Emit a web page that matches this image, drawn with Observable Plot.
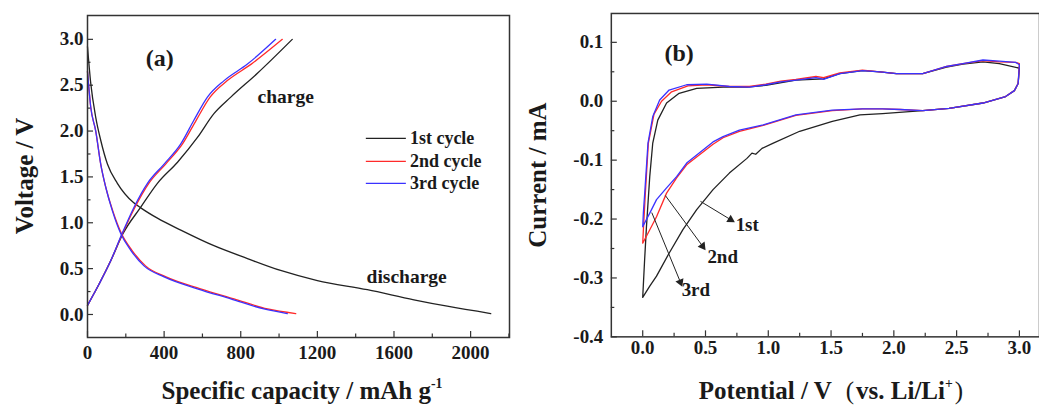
<!DOCTYPE html>
<html><head><meta charset="utf-8">
<script src="https://cdn.jsdelivr.net/npm/d3@7"></script>
<script src="https://cdn.jsdelivr.net/npm/@observablehq/plot@0.6"></script>
<style>
html,body{margin:0;padding:0;background:#fff;overflow:hidden}
#wrap{position:relative;width:1039px;height:407px;overflow:hidden;font-family:"Liberation Serif",serif;font-weight:bold;color:#1a1a1a}
.panel{position:absolute;top:0}
.title{position:absolute;font-size:25px;line-height:25px;white-space:nowrap}
.title sup{font-size:0.55em;line-height:0;position:relative;top:-0.15em}
.paren{font-weight:normal;margin:0 0.08em}
</style></head>
<body><div id="wrap">
<div id="pa" class="panel" style="left:0"></div>
<div id="pb" class="panel" style="left:519px"></div>
<div class="title" style="left:302px;top:378px;transform:translateX(-50%)">Specific capacity / mAh g<sup>-1</sup></div>
<div class="title" style="left:24px;top:176px;transform:translate(-50%,-50%) rotate(-90deg)">Voltage / V</div>
<div class="title" style="left:832px;top:378px;transform:translateX(-50%)">Potential / V &nbsp;<span class="paren">(</span>vs. Li/Li<sup>+</sup><span class="paren">)</span></div>
<div class="title" style="left:537px;top:175px;transform:translate(-50%,-50%) rotate(-90deg)">Current / mA</div>
</div>
<script>
// ---------- Panel (a): charge/discharge profiles ----------
const seriesA = ["1st cycle", "2nd cycle", "3rd cycle"];
const colorsA = ["#222222", "#ff2a2a", "#3a32ff"];

const dis1Cap = [0, 17, 43, 69, 104, 156, 240, 280, 365, 487, 660, 835, 1008, 1200, 1461, 1704, 1878, 2105];
const dis1Volt = [2.92, 2.52, 2.15, 1.90, 1.64, 1.43, 1.22, 1.16, 1.05, 0.92, 0.75, 0.61, 0.48, 0.37, 0.27, 0.16, 0.09, 0.01];
const dis2Cap = [0, 17, 43, 69, 95, 132, 178, 232, 303, 410, 590, 765, 940, 1087];
const dis2Volt = [2.65, 2.26, 2.0, 1.64, 1.39, 1.13, 0.88, 0.70, 0.53, 0.41, 0.28, 0.17, 0.06, 0.01];
const dis3Cap = [0, 17, 43, 69, 95, 130, 174, 226, 295, 400, 574, 748, 921, 1043];
const dis3Volt = [2.65, 2.26, 2.0, 1.64, 1.39, 1.13, 0.88, 0.70, 0.53, 0.41, 0.28, 0.17, 0.06, 0.01];

const ch1Cap = [0, 60, 120, 185, 278, 365, 470, 574, 660, 748, 887, 1069];
const ch1Volt = [0.10, 0.33, 0.58, 0.88, 1.17, 1.43, 1.66, 1.93, 2.19, 2.37, 2.63, 3.0];
const ch2Cap = [0, 60, 120, 182, 248, 320, 408, 496, 568, 640, 730, 855, 1017];
const ch2Volt = [0.10, 0.33, 0.58, 0.88, 1.17, 1.43, 1.64, 1.86, 2.12, 2.37, 2.55, 2.73, 3.0];
const ch3Cap = [0, 60, 120, 180, 243, 313, 400, 487, 556, 626, 713, 835, 982];
const ch3Volt = [0.10, 0.33, 0.58, 0.88, 1.17, 1.43, 1.64, 1.86, 2.12, 2.37, 2.55, 2.73, 3.0];

const capMajor = [0, 400, 800, 1200, 1600, 2000];
const capMinor = [200, 600, 1000, 1400, 1800, 2200];
const voltMajor = [0, 0.5, 1.0, 1.5, 2.0, 2.5, 3.0];
const voltMinor = [0.25, 0.75, 1.25, 1.75, 2.25, 2.75];

// ---------- Panel (b): cyclic voltammetry ----------
const seriesB = ["1st", "2nd", "3rd"];
const cv1Pot = [3.0, 2.99, 2.96, 2.89, 2.71, 2.44, 2.23, 1.91, 1.73, 1.51, 1.25, 1.04, 0.95, 0.90, 0.87, 0.83, 0.69, 0.56, 0.43, 0.32, 0.21, 0.11, 0.056, 0.0,
  0.015, 0.03, 0.056, 0.08, 0.12, 0.19, 0.29, 0.43, 0.64, 0.83, 0.98, 1.22, 1.44, 1.57, 1.75, 1.89, 2.02, 2.23, 2.42, 2.55, 2.71, 2.84, 3.0];
const cv1Cur = [0.056, 0.03, 0.018, 0.008, -0.003, -0.012, -0.016, -0.021, -0.023, -0.034, -0.051, -0.071, -0.080, -0.090, -0.088, -0.097, -0.122, -0.150, -0.184, -0.218, -0.258, -0.297, -0.314, -0.333,
  -0.27, -0.2125, -0.128, -0.071, -0.032, -0.003, 0.0135, 0.022, 0.024, 0.024, 0.027, 0.036, 0.038, 0.047, 0.052, 0.050, 0.047, 0.047, 0.058, 0.063, 0.067, 0.064, 0.056];
const cv2Pot = [3.0, 2.99, 2.96, 2.89, 2.71, 2.44, 2.23, 2.05, 1.91, 1.75, 1.51, 1.22, 0.96, 0.77, 0.64, 0.56, 0.35, 0.27, 0.19, 0.11, 0.042, 0.0,
  0.005, 0.02, 0.045, 0.09, 0.15, 0.23, 0.36, 0.51, 0.69, 0.85, 0.98, 1.10, 1.22, 1.38, 1.44, 1.57, 1.75, 1.89, 2.02, 2.23, 2.42, 2.55, 2.71, 2.84, 2.97, 3.0];
const cv2Cur = [0.064, 0.03, 0.018, 0.008, -0.003, -0.012, -0.016, -0.014, -0.013, -0.013, -0.016, -0.024, -0.041, -0.051, -0.062, -0.073, -0.108, -0.130, -0.156, -0.196, -0.224, -0.241,
  -0.22, -0.16, -0.071, -0.022, 0.0, 0.016, 0.026, 0.028, 0.025, 0.025, 0.029, 0.034, 0.037, 0.042, 0.040, 0.048, 0.053, 0.050, 0.047, 0.047, 0.059, 0.064, 0.069, 0.067, 0.066, 0.064];
const cv3Pot = [3.0, 2.99, 2.96, 2.89, 2.71, 2.44, 2.23, 2.05, 1.91, 1.75, 1.51, 1.22, 0.96, 0.77, 0.64, 0.56, 0.35, 0.27, 0.19, 0.11, 0.056, 0.0,
  0.005, 0.016, 0.042, 0.08, 0.135, 0.21, 0.35, 0.51, 0.69, 0.85, 0.98, 1.10, 1.22, 1.38, 1.44, 1.57, 1.75, 1.89, 2.02, 2.23, 2.42, 2.55, 2.71, 2.84, 2.97, 3.0];
const cv3Cur = [0.062, 0.03, 0.018, 0.008, -0.003, -0.012, -0.016, -0.014, -0.013, -0.013, -0.015, -0.023, -0.040, -0.049, -0.060, -0.069, -0.105, -0.128, -0.147, -0.167, -0.190, -0.213,
  -0.19, -0.156, -0.071, -0.026, 0.002, 0.019, 0.028, 0.029, 0.025, 0.024, 0.028, 0.033, 0.036, 0.040, 0.037, 0.047, 0.052, 0.050, 0.047, 0.047, 0.059, 0.064, 0.070, 0.068, 0.066, 0.062];

const potMajor = [0, 0.5, 1.0, 1.5, 2.0, 2.5, 3.0];
const potMinor = [0.25, 0.75, 1.25, 1.75, 2.25, 2.75];
const curMajor = [-0.4, -0.3, -0.2, -0.1, 0.0, 0.1];
const curMinor = [-0.35, -0.25, -0.15, -0.05, 0.05];

// annotation arrows (label, tail, head, label anchor)
const arrowLabels = ["1st", "2nd", "3rd"];
const arrowX1 = [0.46, 0.18, 0.072];
const arrowY1 = [-0.170, -0.160, -0.189];
const arrowX2 = [0.70, 0.477, 0.30];
const arrowY2 = [-0.201, -0.246, -0.307];
const labelX = [0.74, 0.515, 0.31];
const labelY = [-0.210, -0.264, -0.320];

// ---------- helpers ----------
const rows = (xs, ys, series, seg) => xs.map((x, i) => ({x, y: ys[i], series, seg}));
const FONT = '"Liberation Serif", "Times New Roman", serif';
const AX = "#333";
const TICK_FS = 19;

// ---------- Panel (a) ----------
{
  const W = 519, H = 407, mt = 15, ml = 87, mr = 10, mb = 70;
  const iw = W - ml - mr, ih = H - mt - mb;
  const dataA = [
    ...rows(dis1Cap, dis1Volt, seriesA[0], "d1"), ...rows(ch1Cap, ch1Volt, seriesA[0], "c1"),
    ...rows(dis2Cap, dis2Volt, seriesA[1], "d2"), ...rows(ch2Cap, ch2Volt, seriesA[1], "c2"),
    ...rows(dis3Cap, dis3Volt, seriesA[2], "d3"), ...rows(ch3Cap, ch3Volt, seriesA[2], "c3")
  ];
  const legendY = [1.92, 1.67, 1.43];
  const legend = seriesA.map((s, i) => ({s, y: legendY[i]}));
  const chart = Plot.plot({
    width: W, height: H, marginTop: mt, marginLeft: ml, marginRight: mr, marginBottom: mb,
    style: {fontFamily: FONT, fontWeight: "bold", background: "transparent", color: "#1a1a1a"},
    x: {domain: [0, 2203]},
    y: {domain: [-0.251, 3.26]},
    color: {domain: seriesA, range: colorsA},
    marks: [
      Plot.ruleX(capMajor, {x: d => d, insetTop: ih - 6, stroke: AX, strokeWidth: 1.2}),
      Plot.ruleX(capMinor, {x: d => d, insetTop: ih - 3.5, stroke: AX, strokeWidth: 1.2}),
      Plot.ruleY(voltMajor, {y: d => d, insetRight: iw - 6, stroke: AX, strokeWidth: 1.2}),
      Plot.ruleY(voltMinor, {y: d => d, insetRight: iw - 3.5, stroke: AX, strokeWidth: 1.2}),
      Plot.axisX({ticks: capMajor, tickSize: 0, tickPadding: 8, fontSize: TICK_FS, label: null, tickFormat: d => String(d)}),
      Plot.axisY({ticks: voltMajor, tickSize: 0, tickPadding: 4, fontSize: TICK_FS, label: null, tickFormat: d => d.toFixed(1)}),
      Plot.line(dataA, {x: "x", y: "y", z: "seg", stroke: "series", strokeWidth: 1.3, curve: "monotone-x"}),
      Plot.link(legend, {x1: 1453, x2: 1662, y1: "y", y2: "y", stroke: "s", strokeWidth: 1.3}),
      Plot.text(legend, {x: 1683, y: "y", text: "s", textAnchor: "start", fontSize: 18}),
      Plot.text(["(a)"], {x: 377, y: 2.79, text: d => d, fontSize: 24}),
      Plot.text(["charge"], {x: 888, y: 2.37, text: d => d, textAnchor: "start", fontSize: 19.5}),
      Plot.text(["discharge"], {x: 1457, y: 0.41, text: d => d, textAnchor: "start", fontSize: 19.5}),
      Plot.frame({stroke: AX, strokeWidth: 1.5})
    ]
  });
  document.getElementById("pa").appendChild(chart);
}

// ---------- Panel (b) ----------
{
  const W = 521, H = 407, mt = 13, ml = 92, mr = 0, mb = 70;
  const iw = W - ml - mr, ih = H - mt - mb;
  const xd = [-0.25, 3.16], yd = [-0.4, 0.149];
  const kx = iw / (xd[1] - xd[0]), ky = ih / (yd[1] - yd[0]);
  const dataB = [
    ...rows(cv1Pot, cv1Cur, seriesB[0], "1"),
    ...rows(cv2Pot, cv2Cur, seriesB[1], "2"),
    ...rows(cv3Pot, cv3Cur, seriesB[2], "3")
  ];
  const ann = arrowLabels.map((t, i) => {
    const dx = (arrowX2[i] - arrowX1[i]) * kx, dy = -(arrowY2[i] - arrowY1[i]) * ky;
    return {t, x1: arrowX1[i], y1: arrowY1[i], x2: arrowX2[i], y2: arrowY2[i], lx: labelX[i], ly: labelY[i],
      rot: Math.atan2(dx, -dy) * 180 / Math.PI};
  });
  const chart = Plot.plot({
    width: W, height: H, marginTop: mt, marginLeft: ml, marginRight: mr, marginBottom: mb,
    style: {fontFamily: FONT, fontWeight: "bold", background: "transparent", color: "#1a1a1a"},
    x: {domain: xd},
    y: {domain: yd},
    color: {domain: seriesB, range: colorsA},
    marks: [
      Plot.ruleX(potMajor, {x: d => d, insetTop: ih - 6, stroke: AX, strokeWidth: 1.2}),
      Plot.ruleX(potMinor, {x: d => d, insetTop: ih - 3.5, stroke: AX, strokeWidth: 1.2}),
      Plot.ruleY(curMajor, {y: d => d, insetRight: iw - 6, stroke: AX, strokeWidth: 1.2}),
      Plot.ruleY(curMinor, {y: d => d, insetRight: iw - 3.5, stroke: AX, strokeWidth: 1.2}),
      Plot.axisX({ticks: potMajor, tickSize: 0, tickPadding: 4, fontSize: TICK_FS, label: null, tickFormat: d => d.toFixed(1)}),
      Plot.axisY({ticks: curMajor, tickSize: 0, tickPadding: 8, fontSize: TICK_FS, label: null, tickFormat: d => d.toFixed(1)}),
      Plot.line(dataB, {x: "x", y: "y", z: "seg", stroke: "series", strokeWidth: 1.3}),
      Plot.link(ann, {x1: "x1", y1: "y1", x2: "x2", y2: "y2", stroke: "#222", strokeWidth: 1}),
      Plot.dot(ann, {x: "x2", y: "y2", symbol: "triangle", r: 3.2, fill: "#222", stroke: "none", rotate: "rot"}),
      Plot.text(ann, {x: "lx", y: "ly", text: "t", textAnchor: "start", fontSize: 19}),
      Plot.text(["(b)"], {x: 0.29, y: 0.082, text: d => d, fontSize: 24}),
      Plot.frame({stroke: AX, strokeWidth: 1.5})
    ]
  });
  document.getElementById("pb").appendChild(chart);
}
</script>
</body></html>
